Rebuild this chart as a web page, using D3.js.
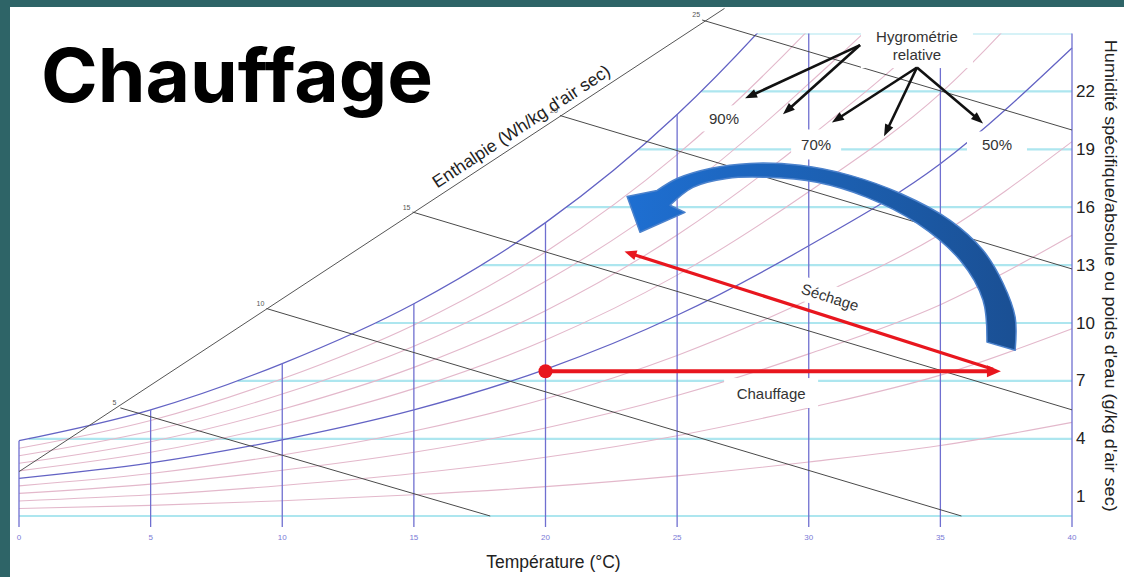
<!DOCTYPE html>
<html>
<head>
<meta charset="utf-8">
<script src="https://cdn.jsdelivr.net/npm/d3@7"></script>
<style>
  html, body { margin: 0; padding: 0; background: #fff; }
  svg { display: block; }
</style>
</head>
<body>
<svg id="chart" width="1124" height="577"></svg>
<script>
// ---- Psychrometric chart data ----
// Dry-bulb temperatures (°C) of the vertical grid
const temperatures = [0, 5, 10, 15, 20, 25, 30, 35, 40];
// Relative humidity curves (%), and water content w (g/kg dry air) at each temperature above
const rhLevels = [10, 20, 30, 40, 50, 60, 70, 80, 90, 100];
const rh10  = [0.39, 0.55, 0.79, 1.10, 1.52, 2.08, 2.80, 3.65, 4.85];
const rh20  = [0.78, 1.10, 1.58, 2.20, 3.04, 4.16, 5.60, 7.30, 9.70];
const rh30  = [1.17, 1.65, 2.37, 3.30, 4.56, 6.24, 8.40, 10.95, 14.55];
const rh40  = [1.56, 2.20, 3.16, 4.40, 6.08, 8.32, 11.20, 14.60, 19.40];
const rh50  = [1.95, 2.75, 3.95, 5.50, 7.60, 10.40, 14.00, 18.25, 24.25];
const rh60  = [2.34, 3.30, 4.74, 6.60, 9.12, 12.48, 16.80, 21.90, 29.10];
const rh70  = [2.73, 3.85, 5.53, 7.70, 10.64, 14.56, 19.60, 25.55, 33.95];
const rh80  = [3.12, 4.40, 6.32, 8.80, 12.16, 16.64, 22.40, 29.20, 38.80];
const rh90  = [3.51, 4.95, 7.11, 9.90, 13.68, 18.72, 25.20, 32.85, 43.65];
const rh100 = [3.90, 5.50, 7.90, 11.00, 15.20, 20.80, 28.00, 36.50, 48.50];
const rhCurves = [rh10, rh20, rh30, rh40, rh50, rh60, rh70, rh80, rh90, rh100];

// Water content grid lines and right-hand tick labels (g/kg)
const humidityGrid = [0, 4, 7, 10, 13, 16, 19, 22, 25];
const humidityTicks = [1, 4, 7, 10, 13, 16, 19, 22];

// Enthalpy (Wh/kg dry air): scale line, and each isenthalp from the scale to its end [T, w]
const enthalpyAxis = [[0, 2.3], [26.8, 26.3]];
const enthalpyLevels = [5, 10, 15, 20, 25];
const enthalpyStart = [[3.85, 5.6], [9.4, 10.75], [14.95, 15.75], [20.55, 20.75], [25.95, 25.7]];
const enthalpyEnd = [[17.9, 0], [35.8, 0], [40, 5.5], [40, 12.8], [40, 20.0]];

// Process: heating at constant water content, then drying
const startPoint = [20, 7.5];
const heatingEnd = [37.3, 7.5];
const dryingStart = [37.0, 7.6];
const dryingEnd = [23.0, 13.7];

// Curved return arrow outline [T, w]
const loopOuter = [[37.84, 8.59], [37.84, 10.30], [37.38, 12.06], [36.62, 13.77], [35.37, 15.32],
  [33.47, 16.72], [31.57, 17.65], [29.67, 18.17], [27.77, 18.27], [26.25, 18.01], [25.0, 17.49], [24.24, 16.87]];
const loopHead = [[23.10, 16.56], [23.59, 14.70], [25.30, 15.73]];
const loopInner = [[24.73, 16.10], [25.60, 17.03], [26.89, 17.49], [28.41, 17.55], [30.31, 17.29],
  [32.21, 16.51], [34.11, 15.17], [35.75, 13.25], [36.62, 11.18], [36.77, 9.01]];

// Relative humidity callouts
const rhCallout = { origins: [[31.95, 24.4], [34.11, 23.24]],
  tips: [[[27.58, 21.64], [29.02, 20.81]], [[30.88, 20.39], [32.86, 19.67], [36.62, 20.34]]] };
const rhLabels = [
  { text: "90%", T: 26.78, w: 20.6, bw: 46, bh: 26 },
  { text: "70%", T: 30.28, w: 19.25, bw: 50, bh: 30 },
  { text: "50%", T: 37.15, w: 19.25, bw: 60, bh: 26 }
];

// ---- Drawing ----
const W = 1124, H = 577;
const svg = d3.select("#chart");
const x = d3.scaleLinear().domain([0, 40]).range([19, 1072]);
const y = d3.scaleLinear().domain([0, 25]).range([516, 33.5]);
const P = d => [x(d[0]), y(d[1])];

svg.append("rect").attr("width", W).attr("height", H).attr("fill", "#fff");

const defs = svg.append("defs");
defs.append("clipPath").attr("id", "plot").append("rect")
  .attr("x", x(0) - 1).attr("y", y(25))
  .attr("width", x(40) - x(0) + 2).attr("height", y(0) - y(25) + 14);

const grad = defs.append("linearGradient").attr("id", "loopFill")
  .attr("gradientUnits", "userSpaceOnUse")
  .attr("x1", x(23)).attr("x2", x(38)).attr("y1", 0).attr("y2", 0);
grad.append("stop").attr("offset", "0%").attr("stop-color", "#1e6fd2");
grad.append("stop").attr("offset", "55%").attr("stop-color", "#1c5fb0");
grad.append("stop").attr("offset", "100%").attr("stop-color", "#1a4f93");

const gCyan = svg.append("g").attr("clip-path", "url(#plot)");
const gCurves = svg.append("g").attr("clip-path", "url(#plot)");
const gTemp = svg.append("g");
const gEnth = svg.append("g");
const gBoxes = svg.append("g");
const gText = svg.append("g").attr("font-family", "'Liberation Sans', Arial, sans-serif").attr("fill", "#333");
const gArrows = svg.append("g");

// Relative humidity curves
const rhLine = d3.line()
  .x((d, i) => x(temperatures[i]))
  .y(d => y(d))
  .curve(d3.curveMonotoneX);

let satPath = null;
rhCurves.forEach((vals, k) => {
  const lvl = rhLevels[k];
  const major = lvl === 50 || lvl === 100;
  const p = gCurves.append("path")
    .attr("d", rhLine(vals))
    .attr("fill", "none")
    .attr("stroke", major ? "#6363c4" : "#e3b8cb")
    .attr("stroke-width", major ? 1.3 : 1.1);
  if (major) p.raise();
  if (lvl === 100) satPath = p;
});

// x position where the saturation curve reaches a given water content
function saturationX(w) {
  if (w <= rh100[0]) return x(0);
  const node = satPath.node();
  const L = node.getTotalLength();
  for (let s = 0; s <= L; s += 0.5) {
    const pt = node.getPointAtLength(s);
    if (pt.y <= y(w)) return pt.x;
  }
  return x(40);
}

// Water content grid lines
humidityGrid.forEach(w => {
  gCyan.append("line")
    .attr("x1", saturationX(w)).attr("x2", x(40))
    .attr("y1", y(w)).attr("y2", y(w))
    .attr("stroke", "#ade6ef").attr("stroke-width", 2.2);
});

// Temperature grid lines, from below the base up to the saturation curve
temperatures.forEach((t, i) => {
  const top = Math.min(rh100[i], 25);
  gTemp.append("line")
    .attr("x1", x(t)).attr("x2", x(t))
    .attr("y1", y(0) + 11).attr("y2", y(top))
    .attr("stroke", "#6f6fd0").attr("stroke-width", 1.3);
  gTemp.append("text")
    .attr("x", x(t)).attr("y", y(0) + 21)
    .attr("text-anchor", "middle").attr("dominant-baseline", "central")
    .attr("font-family", "'Liberation Sans', Arial, sans-serif")
    .attr("font-size", 8).attr("fill", "#7a7ad6")
    .text(t);
});

// Enthalpy scale and isenthalps
gEnth.append("line")
  .attr("x1", P(enthalpyAxis[0])[0]).attr("y1", P(enthalpyAxis[0])[1])
  .attr("x2", P(enthalpyAxis[1])[0]).attr("y2", P(enthalpyAxis[1])[1])
  .attr("stroke", "#555").attr("stroke-width", 1);
enthalpyLevels.forEach((h, i) => {
  const a = P(enthalpyStart[i]), b = P(enthalpyEnd[i]);
  gEnth.append("line")
    .attr("x1", a[0]).attr("y1", a[1]).attr("x2", b[0]).attr("y2", b[1])
    .attr("stroke", "#4a4a4a").attr("stroke-width", 1);
  gEnth.append("text")
    .attr("x", a[0] - 6).attr("y", a[1] - 5)
    .attr("text-anchor", "middle").attr("dominant-baseline", "central")
    .attr("font-family", "'Liberation Sans', Arial, sans-serif")
    .attr("font-size", 7).attr("fill", "#555")
    .text(h);
});

// Enthalpy scale title, along the scale line
{
  const a = P(enthalpyAxis[0]), b = P(enthalpyAxis[1]);
  const ang = Math.atan2(b[1] - a[1], b[0] - a[0]) * 180 / Math.PI;
  const t = 0.722;
  const cx = a[0] + (b[0] - a[0]) * t, cy = a[1] + (b[1] - a[1]) * t;
  gText.append("text")
    .attr("transform", `translate(${cx},${cy}) rotate(${ang})`)
    .attr("x", 0).attr("y", -7)
    .attr("text-anchor", "middle")
    .attr("font-size", 17.5).attr("fill", "#222")
    .text("Enthalpie (Wh/kg d'air sec)");
}

// White boxes behind the labels
function box(cx, cy, w, h, rot) {
  gBoxes.append("rect")
    .attr("x", -w / 2).attr("y", -h / 2).attr("width", w).attr("height", h)
    .attr("transform", `translate(${cx},${cy}) rotate(${rot || 0})`)
    .attr("fill", "#fff");
}

// Relative humidity labels
rhLabels.forEach(d => {
  box(x(d.T), y(d.w), d.bw, d.bh);
  gText.append("text")
    .attr("x", x(d.T)).attr("y", y(d.w))
    .attr("text-anchor", "middle").attr("dominant-baseline", "central")
    .attr("font-size", 15).text(d.text);
});

// Callout title
box(x(34.11), y(24.4), 112, 46);
gText.append("text").attr("x", x(34.11)).attr("y", y(24.84))
  .attr("text-anchor", "middle").attr("dominant-baseline", "central")
  .attr("font-size", 15).text("Hygrométrie");
gText.append("text").attr("x", x(34.11)).attr("y", y(23.9))
  .attr("text-anchor", "middle").attr("dominant-baseline", "central")
  .attr("font-size", 15).text("relative");

// Process labels
box(x(28.57), y(6.37), 94, 30);
gText.append("text").attr("x", x(28.57)).attr("y", y(6.37))
  .attr("text-anchor", "middle").attr("dominant-baseline", "central")
  .attr("font-size", 15).text("Chauffage");

const dA = P(dryingStart), dB = P(dryingEnd);
const dryAngle = Math.atan2(dA[1] - dB[1], dA[0] - dB[0]) * 180 / Math.PI;
box(x(30.81), y(11.34), 70, 24, dryAngle);
gText.append("text")
  .attr("transform", `translate(${x(30.81)},${y(11.34)}) rotate(${dryAngle})`)
  .attr("text-anchor", "middle").attr("dominant-baseline", "central")
  .attr("font-size", 15).text("Séchage");

// Right-hand water content ticks
humidityTicks.forEach(w => {
  gText.append("text")
    .attr("x", x(40) + 4).attr("y", y(w))
    .attr("dominant-baseline", "central")
    .attr("font-size", 17).attr("fill", "#222")
    .text(w);
});

// Axis titles
gText.append("text")
  .attr("x", (x(0) + x(40)) / 2 + 8).attr("y", 568)
  .attr("text-anchor", "middle")
  .attr("font-size", 17.5).attr("fill", "#222")
  .text("Température (°C)");
gText.append("text")
  .attr("transform", `translate(1111,${(y(25) + y(0)) / 2 + 1}) rotate(90)`)
  .attr("text-anchor", "middle").attr("dominant-baseline", "central")
  .attr("font-size", 16.5).attr("fill", "#222")
  .attr("textLength", 472).attr("lengthAdjust", "spacingAndGlyphs")
  .text("Humidité spécifique/absolue ou poids d'eau (g/kg d'air sec)");

// Straight arrow with a filled head
function arrow(g, p0, p1, o) {
  const dx = p1[0] - p0[0], dy = p1[1] - p0[1];
  const len = Math.hypot(dx, dy), ux = dx / len, uy = dy / len;
  const bx = p1[0] - ux * o.head, by = p1[1] - uy * o.head;
  g.append("line")
    .attr("x1", p0[0]).attr("y1", p0[1])
    .attr("x2", bx + ux * 1).attr("y2", by + uy * 1)
    .attr("stroke", o.color).attr("stroke-width", o.width);
  const hw = o.headWidth / 2;
  g.append("path")
    .attr("d", `M${p1[0]},${p1[1]} L${bx - uy * hw},${by + ux * hw} L${bx + uy * hw},${by - ux * hw} Z`)
    .attr("fill", o.color);
}

// Callout arrows
rhCallout.origins.forEach((o, i) => {
  rhCallout.tips[i].forEach(t => {
    arrow(gArrows, P(o), P(t), { color: "#111", width: 2.6, head: 12, headWidth: 9 });
  });
});

// Curved return arrow
{
  const curve = d3.line().curve(d3.curveCatmullRom.alpha(0.5));
  let d = curve(loopOuter.map(P));
  d += " L" + loopHead.map(P).map(p => p.join(",")).join(" L");
  d += " L" + curve(loopInner.map(P)).slice(1);
  d += " Z";
  gArrows.append("path").attr("d", d)
    .attr("fill", "url(#loopFill)")
    .attr("stroke", "#4c82cc").attr("stroke-width", 1.5)
    .attr("stroke-linejoin", "round");
}

// Heating and drying arrows
arrow(gArrows, P(startPoint), P(heatingEnd), { color: "#e8161e", width: 4, head: 14, headWidth: 12 });
arrow(gArrows, P(dryingStart), P(dryingEnd), { color: "#e8161e", width: 3.2, head: 12, headWidth: 10 });
gArrows.append("circle")
  .attr("cx", x(startPoint[0])).attr("cy", y(startPoint[1])).attr("r", 7)
  .attr("fill", "#e8161e");

// Slide title and frame
svg.append("text")
  .attr("x", 41).attr("y", 102)
  .attr("font-family", "Inter, 'Open Sans', sans-serif")
  .attr("font-weight", 700).attr("font-size", 74).attr("fill", "#000")
  .attr("textLength", 392).attr("lengthAdjust", "spacingAndGlyphs")
  .text("Chauffage");
svg.append("rect").attr("x", 0).attr("y", 0).attr("width", W).attr("height", 7).attr("fill", "#2e6467");
svg.append("rect").attr("x", 0).attr("y", 0).attr("width", 10).attr("height", H).attr("fill", "#2e6467");
</script>
</body>
</html>
